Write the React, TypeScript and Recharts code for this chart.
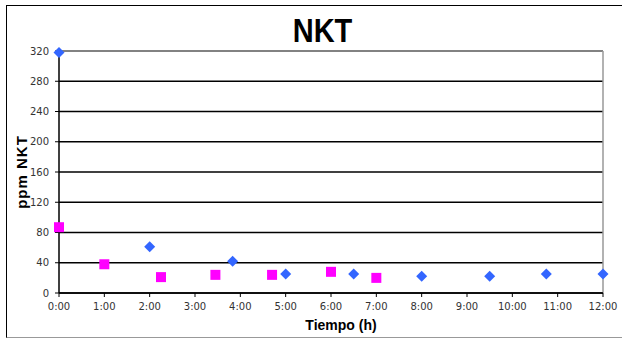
import React from 'react'
import { ScatterChart, Scatter, XAxis, YAxis, CartesianGrid, ReferenceLine, Label } from 'recharts'

// tiempo en horas
const blueHours = [0, 2, 3.83, 5, 6.5, 8, 9.5, 10.75, 12]
const blueNkt = [318, 61, 42, 25, 25, 22, 22, 25, 25]

const pinkHours = [0, 1, 2.25, 3.45, 4.7, 6, 7]
const pinkNkt = [87, 38, 21, 24, 24, 28, 20]

const xTicks = [0, 1, 2, 3, 4, 5, 6, 7, 8, 9, 10, 11, 12]
const yTicks = [0, 40, 80, 120, 160, 200, 240, 280, 320]

const blueData = blueHours.map((h, i) => ({ h, v: blueNkt[i] }))
const pinkData = pinkHours.map((h, i) => ({ h, v: pinkNkt[i] }))

const Diamond = (props: any) => {
  const { cx, cy } = props
  const r = 5.5
  return <path d={`M${cx},${cy - r}L${cx + r},${cy}L${cx},${cy + r}L${cx - r},${cy}Z`} fill="#3366ff" />
}

const Square = (props: any) => {
  const { cx, cy } = props
  return <rect x={cx - 5} y={cy - 5} width={10} height={10} fill="#ff00ff" />
}

const sans = 'Liberation Sans, Arial, sans-serif'
const tickStyle = { fontSize: 10, fill: '#333', fontFamily: 'DejaVu Sans, sans-serif' }

export default function App() {
  return (
    <div style={{ position: 'absolute', left: 0, top: 0, width: 622, height: 338, background: '#fff', overflow: 'hidden' }}>
      <div
        style={{
          position: 'absolute',
          left: 6,
          top: 5,
          width: 616,
          height: 331,
          borderTop: '1.5px solid #000',
          borderLeft: '1.5px solid #000',
          borderBottom: '1px solid #999',
        }}
      />
      <div
        style={{
          position: 'absolute',
          left: 222,
          top: 14,
          width: 201,
          textAlign: 'center',
          fontFamily: sans,
          fontWeight: 'bold',
          fontSize: 29,
          lineHeight: 1,
          transform: 'scaleY(1.17)',
          transformOrigin: '50% 0',
        }}
      >
        NKT
      </div>
      <div style={{ position: 'absolute', left: 0, top: 0 }}>
        <ScatterChart width={622} height={338} margin={{ top: 51, right: 19, bottom: 0, left: 0 }}>
          <CartesianGrid vertical={false} stroke="#000" strokeWidth={1.5} />
          <XAxis
            type="number"
            dataKey="h"
            domain={[0, 12]}
            ticks={xTicks}
            interval={0}
            tickFormatter={(v: number) => `${v}:00`}
            tick={tickStyle}
            tickSize={4}
            tickMargin={6}
            tickLine={{ stroke: '#000' }}
            axisLine={{ stroke: '#000', strokeWidth: 1.5 }}
            height={45}
          >
            <Label
              value="Tiempo (h)"
              position="insideBottom"
              offset={8}
              dx={10}
              style={{ fontSize: 14, fontWeight: 'bold', fill: '#000', fontFamily: sans }}
            />
          </XAxis>
          <YAxis
            type="number"
            dataKey="v"
            domain={[0, 320]}
            ticks={yTicks}
            interval={0}
            tick={tickStyle}
            tickSize={4}
            tickMargin={6}
            tickLine={{ stroke: '#000' }}
            axisLine={{ stroke: '#000', strokeWidth: 1.5 }}
            width={59}
          >
            <Label
              value="ppm NKT"
              angle={-90}
              position="insideLeft"
              offset={22}
              style={{ fontSize: 15, fontWeight: 'bold', fill: '#000', textAnchor: 'middle', letterSpacing: 1, fontFamily: sans }}
            />
          </YAxis>
          <ReferenceLine y={320} stroke="#999" strokeWidth={1.5} />
          <ReferenceLine x={12} stroke="#999" strokeWidth={1.5} />
          <Scatter data={pinkData} shape={<Square />} isAnimationActive={false} />
          <Scatter data={blueData} shape={<Diamond />} isAnimationActive={false} />
        </ScatterChart>
      </div>
    </div>
  )
}
